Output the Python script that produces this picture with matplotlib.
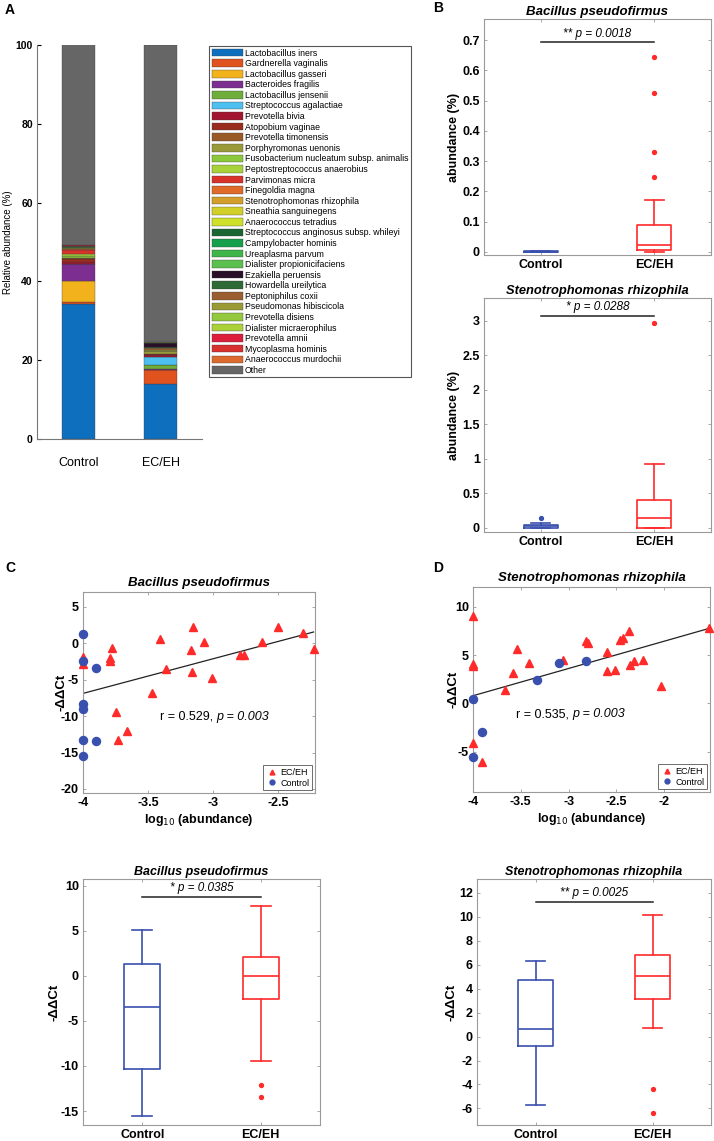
import numpy as np
import matplotlib
matplotlib.use("Agg")
import matplotlib.pyplot as plt
from matplotlib.ticker import FuncFormatter
from matplotlib.lines import Line2D

plt.rcParams['font.family'] = ['Liberation Sans', 'DejaVu Sans']
plt.rcParams['axes.unicode_minus'] = False

# ---------------- Panel A data ----------------
groups = ["Control", "EC/EH"]
species = [
    "Lactobacillus iners", "Gardnerella vaginalis", "Lactobacillus gasseri",
    "Bacteroides fragilis", "Lactobacillus jensenii", "Streptococcus agalactiae",
    "Prevotella bivia", "Atopobium vaginae", "Prevotella timonensis",
    "Porphyromonas uenonis", "Fusobacterium nucleatum subsp. animalis",
    "Peptostreptococcus anaerobius", "Parvimonas micra", "Finegoldia magna",
    "Stenotrophomonas rhizophila", "Sneathia sanguinegens", "Anaerococcus tetradius",
    "Streptococcus anginosus subsp. whileyi", "Campylobacter hominis",
    "Ureaplasma parvum", "Dialister propionicifaciens", "Ezakiella peruensis",
    "Howardella ureilytica", "Peptoniphilus coxii", "Pseudomonas hibiscicola",
    "Prevotella disiens", "Dialister micraerophilus", "Prevotella amnii",
    "Mycoplasma hominis", "Anaerococcus murdochii", "Other",
]
species_colors = [
    "#0E6FBE", "#E0521E", "#F2B21C", "#7D2E91", "#6FAE3A", "#4DBFF0",
    "#A3162F", "#9A2C1E", "#9A5A28", "#9A9A3A", "#8CC83C", "#A8D23A",
    "#D9322A", "#E06A2A", "#D49E2C", "#D2CF2A", "#CFE02A", "#1A6632",
    "#16A04C", "#40B54A", "#5CC04E", "#2A0F28", "#2E6A35", "#9A5E30",
    "#9A9A36", "#94C83E", "#ACD23A", "#DC1E3C", "#D8302E", "#DC6A2E",
    "#666666",
]
control_abund = [34.2, 0.5, 5.5, 4.1, 0.1, 0.05, 0.6, 0.7, 0.2, 0.1, 0.5, 0.5,
                 0.9, 0.2, 0.05, 0.2, 0.1, 0.05, 0.05, 0.1, 0.05, 0.05, 0.05,
                 0.05, 0.05, 0.1, 0.05, 0.1, 0.05, 0.05, 51.3]
ecah_abund = [13.9, 3.6, 0.1, 0.1, 1.1, 2.1, 0.4, 0.2, 0.2, 0.6, 0.15, 0.1,
              0.1, 0.1, 0.3, 0.1, 0.05, 0.05, 0.05, 0.05, 0.05, 0.9, 0.05,
              0.05, 0.05, 0.05, 0.05, 0.05, 0.05, 0.05, 75.3]

# ---------------- Panel B data ----------------
bp_title = "Bacillus pseudofirmus"
sr_title = "Stenotrophomonas rhizophila"
# abundance (%) boxplots: [q1, median, q3, whisker_low, whisker_high]
bp_abund_control = [0.0, 0.001, 0.003, 0.0, 0.004]
bp_abund_control_out = []
bp_abund_ecah = [0.0066, 0.024, 0.089, 0.0, 0.1725]
bp_abund_ecah_out = [0.249, 0.332, 0.527, 0.645]
bp_abund_p = "** p = 0.0018"

sr_abund_control = [0.0, 0.02, 0.048, 0.0, 0.068]
sr_abund_control_out = [0.145]
sr_abund_ecah = [0.005, 0.15, 0.406, 0.0, 0.924]
sr_abund_ecah_out = [2.97]
sr_abund_p = "* p = 0.0288"

# ---------------- Panels C/D data (scatter) ----------------
bp_ctrl_x = [-4.0, -4.0, -3.9, -4.0, -4.0, -4.0, -3.9, -4.0]
bp_ctrl_y = [1.2, -2.4, -3.4, -8.3, -9.0, -13.3, -13.4, -15.5]
bp_ec_x = [-4.0, -4.0, -3.774, -3.795, -3.79, -3.746, -3.733, -3.664, -3.47,
           -3.41, -3.36, -3.167, -3.16, -3.15, -3.07, -3.01, -2.795, -2.76,
           -2.62, -2.5, -2.31, -2.226]
bp_ec_y = [-1.9, -2.9, -0.7, -2.1, -2.4, -9.4, -13.3, -12.0, -6.8, 0.5, -3.6,
           -0.9, -4.0, 2.2, 0.2, -4.8, -1.6, -1.6, 0.2, 2.2, 1.4, -0.8]
bp_fit = [4.745, 12.08]  # slope, intercept
bp_r_text = "r = 0.529, "
bp_p_text = "p = 0.003"

sr_ctrl_x = [-4.0, -3.906, -4.0, -3.33, -3.10, -2.82]
sr_ctrl_y = [0.41, -3.0, -5.59, 2.41, 4.2, 4.38]
sr_ec_x = [-4.0, -4.0, -4.0, -4.0, -3.906, -3.66, -3.584, -3.54, -3.41, -3.06,
           -2.82, -2.80, -2.60, -2.60, -2.51, -2.46, -2.43, -2.37, -2.36, -2.32,
           -2.22, -2.03, -1.535]
sr_ec_y = [9.1, 4.07, 3.9, -4.1, -6.1, 1.38, 3.17, 5.66, 4.14, 4.48, 6.48, 6.28,
           5.28, 3.38, 3.45, 6.55, 6.83, 7.55, 3.97, 4.41, 4.48, 1.8, 7.8]
sr_fit = [2.828, 12.10]
sr_r_text = "r = 0.535, "
sr_p_text = "p = 0.003"

# ---------------- -ddCt boxplots ----------------
bp_ct_control = [-10.3, -3.42, 1.35, -15.6, 5.08]
bp_ct_control_out = []
bp_ct_ecah = [-2.57, -0.06, 2.12, -9.49, 7.78]
bp_ct_ecah_out = [-12.15, -13.45]
bp_ct_p = "* p = 0.0385"

sr_ct_control = [-0.81, 0.61, 4.76, -5.74, 6.29]
sr_ct_control_out = []
sr_ct_ecah = [3.17, 5.04, 6.79, 0.75, 10.16]
sr_ct_ecah_out = [-4.35, -6.36]
sr_ct_p = "** p = 0.0025"

BLUE = "#3A50AE"
RED = "#FF2A2A"
SPINE = "#9A9A9A"

W, H = 714, 1141
fig = plt.figure(figsize=(W / 100, H / 100), dpi=100)


def add_ax(x0, y0, x1, y1):
    return fig.add_axes([x0 / W, 1 - y1 / H, (x1 - x0) / W, (y1 - y0) / H])


def style_box(ax, fs=9):
    for s in ax.spines.values():
        s.set_color(SPINE)
        s.set_linewidth(0.8)
    ax.tick_params(direction='in', length=2.5, width=0.6, color=SPINE,
                   top=True, right=True, labelsize=fs, pad=3)
    for lab in ax.get_xticklabels() + ax.get_yticklabels():
        lab.set_fontweight('bold')


gfmt = FuncFormatter(lambda v, p: ("%g" % v))

# ================= Panel A =================
axA = add_ax(37, 45, 202, 439)
xpos = np.arange(1, len(groups) + 1)
bottoms = np.zeros(len(groups))
handles = []
for i, name in enumerate(species):
    vals = np.array([control_abund[i], ecah_abund[i]])
    b = axA.bar(xpos, vals, width=0.4, bottom=bottoms, color=species_colors[i],
                edgecolor='#3a3a3a', linewidth=0.25, label=name)
    handles.append(b)
    bottoms = bottoms + vals
axA.set_xlim(0.5, 2.5)
axA.set_ylim(0, 100)
axA.set_xticks(xpos)
axA.set_xticklabels(groups, fontsize=9)
axA.set_yticks([0, 20, 40, 60, 80, 100])
axA.spines['top'].set_visible(False)
axA.spines['right'].set_visible(False)
for s in ['left', 'bottom']:
    axA.spines[s].set_color('#777777')
    axA.spines[s].set_linewidth(0.8)
axA.tick_params(axis='y', direction='in', length=3, labelsize=7.5, pad=3)
axA.tick_params(axis='x', length=0, pad=13)
for lab in axA.get_yticklabels():
    lab.set_fontweight('bold')
axA.set_ylabel("Relative abundance (%)", fontsize=7)
axA.yaxis.set_label_coords(-0.145, 0.5)

leg = fig.legend(handles, species, loc='upper left',
                 bbox_to_anchor=(209 / W, 1 - 46 / H), borderaxespad=0,
                 fontsize=6.3, labelspacing=0.18, handlelength=3.6,
                 handleheight=0.95, handletextpad=0.2, borderpad=0.3,
                 fancybox=False, edgecolor='#555555', framealpha=1)
leg.get_frame().set_linewidth(0.8)

fig.text(5 / W, 1 - 10 / H, "A", fontsize=10, fontweight='bold', va='center')
fig.text(433 / W, 1 - 8 / H, "B", fontsize=10, fontweight='bold', va='center')
fig.text(5 / W, 1 - 568 / H, "C", fontsize=10, fontweight='bold', va='center')
fig.text(433 / W, 1 - 568 / H, "D", fontsize=10, fontweight='bold', va='center')


def box_panel(ax, ctrl, ctrl_out, ec, ec_out, ptext, sig_y, text_y):
    for pos, st, out, col in [(1, ctrl, ctrl_out, BLUE), (2, ec, ec_out, RED)]:
        stats = [dict(q1=st[0], med=st[1], q3=st[2], whislo=st[3],
                      whishi=st[4], fliers=out)]
        lp = dict(color=col, linewidth=1.2)
        ax.bxp(stats, positions=[pos], widths=0.3, capwidths=0.17,
               showfliers=True, boxprops=lp, medianprops=lp, whiskerprops=lp,
               capprops=lp,
               flierprops=dict(marker='o', markersize=2.8, markerfacecolor=col,
                               markeredgecolor=col, linestyle='none'))
    ax.set_xlim(0.5, 2.5)
    ax.set_xticks([1, 2])
    ax.set_xticklabels(groups)
    ax.plot([1, 2], [sig_y, sig_y], color='#222222', linewidth=1.1)
    ax.text(1.5, text_y, ptext, ha='center', va='bottom', fontsize=8.5,
            style='italic')


# ================= Panel B top =================
axB1 = add_ax(484, 19, 711, 255)
box_panel(axB1, bp_abund_control, bp_abund_control_out, bp_abund_ecah,
          bp_abund_ecah_out, bp_abund_p, 0.693, 0.702)
axB1.set_ylim(-0.01, 0.77)
axB1.set_yticks(np.arange(0, 0.71, 0.1))
axB1.yaxis.set_major_formatter(gfmt)
style_box(axB1, 9)
axB1.set_title(bp_title, fontsize=9.5, fontweight='bold', style='italic', pad=3)
axB1.set_ylabel("abundance (%)", fontsize=9, fontweight='bold')
axB1.yaxis.set_label_coords(-0.106, 0.5)

# ================= Panel B bottom =================
axB2 = add_ax(484, 298, 711, 532)
box_panel(axB2, sr_abund_control, sr_abund_control_out, sr_abund_ecah,
          sr_abund_ecah_out, sr_abund_p, 3.07, 3.11)
axB2.set_ylim(-0.06, 3.33)
axB2.set_yticks([0, 0.5, 1, 1.5, 2, 2.5, 3])
axB2.yaxis.set_major_formatter(gfmt)
style_box(axB2, 9)
axB2.set_title(sr_title, fontsize=9.3, fontweight='bold', style='italic', pad=3)
axB2.set_ylabel("abundance (%)", fontsize=9, fontweight='bold')
axB2.yaxis.set_label_coords(-0.106, 0.5)


def scatter_panel(ax, cx, cy, ex, ey, fit, rtxt, ptxt, txy):
    xs = np.array(cx + ex)
    xl = np.array([xs.min(), xs.max()])
    ax.plot(xl, fit[0] * xl + fit[1], color='#222222', linewidth=0.9, zorder=1)
    ax.plot(ex, ey, linestyle='none', marker='^', markersize=6.2,
            color=RED, label='EC/EH', zorder=3, clip_on=False)
    ax.plot(cx, cy, linestyle='none', marker='o', markersize=5.8,
            color=BLUE, label='Control', zorder=3, clip_on=False)
    t1 = ax.text(txy[0], txy[1], rtxt, ha='left', va='baseline', fontsize=9)
    ax.annotate(ptxt, xy=(1, 0), xycoords=t1, ha='left', va='bottom',
                fontsize=9, style='italic')
    h = [Line2D([], [], linestyle='none', marker='^', markersize=3.5, color=RED),
         Line2D([], [], linestyle='none', marker='o', markersize=3.5, color=BLUE)]
    lg = ax.legend(h, ['EC/EH', 'Control'], loc='lower right', fontsize=6.5,
                   fancybox=False, edgecolor='#555555', framealpha=1,
                   handlelength=1.2, handletextpad=0.4, borderpad=0.3,
                   labelspacing=0.2, borderaxespad=0.3)
    lg.get_frame().set_linewidth(0.6)
    ax.set_xlabel(r"log$_{10}$ (abundance)", fontsize=9, fontweight='bold',
                  labelpad=2)
    ax.set_ylabel("-ΔΔCt", fontsize=9.5, fontweight='bold')


# ================= Panel C =================
axC = add_ax(83, 592, 315, 793)
scatter_panel(axC, bp_ctrl_x, bp_ctrl_y, bp_ec_x, bp_ec_y, bp_fit,
              bp_r_text, bp_p_text, (-3.41, -10.5))
axC.set_xlim(-4, -2.215)
axC.set_ylim(-20.55, 7.0)
axC.set_xticks([-4, -3.5, -3, -2.5])
axC.set_yticks([-20, -15, -10, -5, 0, 5])
axC.xaxis.set_major_formatter(gfmt)
style_box(axC, 9)
axC.set_title(bp_title, fontsize=9.5, fontweight='bold', style='italic', pad=4)
axC.yaxis.set_label_coords(-0.065, 0.5)

# ================= Panel D =================
axD = add_ax(473, 587, 710, 792)
scatter_panel(axD, sr_ctrl_x, sr_ctrl_y, sr_ec_x, sr_ec_y, sr_fit,
              sr_r_text, sr_p_text, (-3.55, -1.45))
axD.set_xlim(-4, -1.52)
axD.set_ylim(-9.2, 12.07)
axD.set_xticks([-4, -3.5, -3, -2.5, -2])
axD.set_yticks([-5, 0, 5, 10])
axD.xaxis.set_major_formatter(gfmt)
style_box(axD, 9)
axD.set_title(sr_title, fontsize=9.5, fontweight='bold', style='italic', pad=4)
axD.yaxis.set_label_coords(-0.055, 0.5)

# ================= C bottom =================
axE = add_ax(83, 879, 320, 1125)
box_panel(axE, bp_ct_control, bp_ct_control_out, bp_ct_ecah, bp_ct_ecah_out,
          bp_ct_p, 8.78, 9.1)
axE.set_ylim(-16.55, 10.75)
axE.set_yticks([-15, -10, -5, 0, 5, 10])
style_box(axE, 9)
axE.set_title(bp_title, fontsize=9, fontweight='bold', style='italic', pad=3)
axE.set_ylabel("-ΔΔCt", fontsize=9.5, fontweight='bold')
axE.yaxis.set_label_coords(-0.097, 0.5)

# ================= D bottom =================
axF = add_ax(477, 879, 711, 1125)
box_panel(axF, sr_ct_control, sr_ct_control_out, sr_ct_ecah, sr_ct_ecah_out,
          sr_ct_p, 11.22, 11.5)
axF.set_ylim(-7.39, 13.17)
axF.set_yticks(np.arange(-6, 13, 2))
style_box(axF, 9)
axF.set_title(sr_title, fontsize=9, fontweight='bold', style='italic', pad=3)
axF.set_ylabel("-ΔΔCt", fontsize=9.5, fontweight='bold')
axF.yaxis.set_label_coords(-0.085, 0.5)

fig.savefig("out.png", dpi=100)
